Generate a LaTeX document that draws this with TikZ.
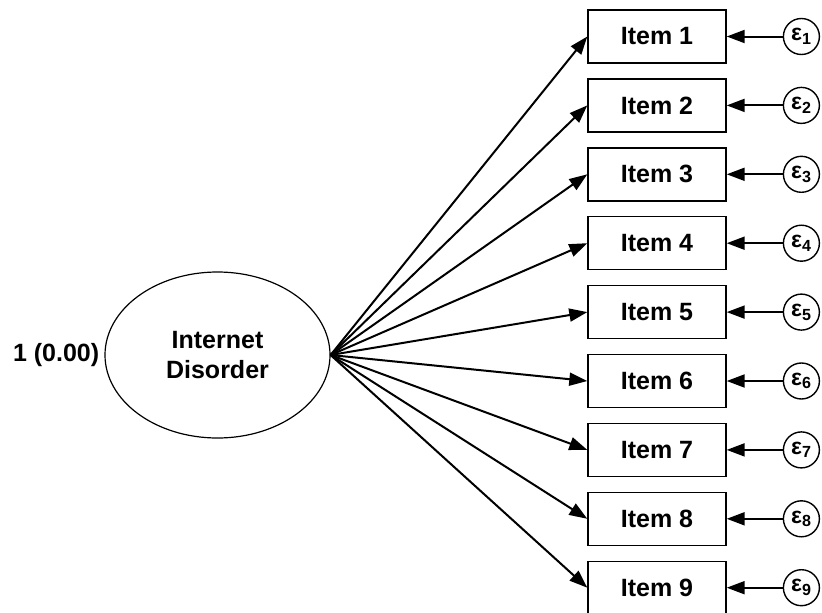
\documentclass[tikz,border=0pt]{standalone}
\usepackage{fontspec}
\setmainfont{Liberation Sans}
\usetikzlibrary{arrows.meta,shapes.geometric,positioning}

\tikzset{
    item/.style={rectangle,draw,line width=1.4pt,minimum width=138pt,minimum height=53pt,inner sep=0pt},
    err/.style={circle,draw,line width=1.4pt,minimum size=36pt,inner sep=0pt,font=\fontsize{23}{23}\selectfont\bfseries},
    load/.style={-{Triangle[length=18pt,width=13pt]},line width=2pt}
}

\begin{document}
\begin{tikzpicture}[x=1pt,y=-1pt,font=\fontsize{25}{30}\selectfont\bfseries]
            \useasboundingbox (0,0) rectangle (822,613);

            \node [ellipse,draw,line width=1.2pt,minimum width=225pt,minimum height=166pt,align=center] (factor) at (217.5,355) {Internet\\Disorder};
            \node [left=5pt of factor,inner sep=0pt] (var) {1 (0.00)};

            \node [item] (item1) at (657,36.5) {Item 1};
            \node [item,below=14.5pt of item1] (item2) {Item 2};
            \node [item,below=14.5pt of item2] (item3) {Item 3};
            \node [item,below=14.5pt of item3] (item4) {Item 4};
            \node [item,below=14.5pt of item4] (item5) {Item 5};
            \node [item,below=14.5pt of item5] (item6) {Item 6};
            \node [item,below=14.5pt of item6] (item7) {Item 7};
            \node [item,below=14.5pt of item7] (item8) {Item 8};
            \node [item,below=14.5pt of item8] (item9) {Item 9};

            \node [err,right=56pt of item1] (e1) {ε\textsubscript{1}};
            \node [err,right=56pt of item2] (e2) {ε\textsubscript{2}};
            \node [err,right=56pt of item3] (e3) {ε\textsubscript{3}};
            \node [err,right=56pt of item4] (e4) {ε\textsubscript{4}};
            \node [err,right=56pt of item5] (e5) {ε\textsubscript{5}};
            \node [err,right=56pt of item6] (e6) {ε\textsubscript{6}};
            \node [err,right=56pt of item7] (e7) {ε\textsubscript{7}};
            \node [err,right=56pt of item8] (e8) {ε\textsubscript{8}};
            \node [err,right=56pt of item9] (e9) {ε\textsubscript{9}};

            \foreach \i in {1,...,9} {
                \draw [load] (factor.east) -- (item\i.west);
                \draw [load] (e\i) -- (item\i);
            }
        \end{tikzpicture}
\end{document}
